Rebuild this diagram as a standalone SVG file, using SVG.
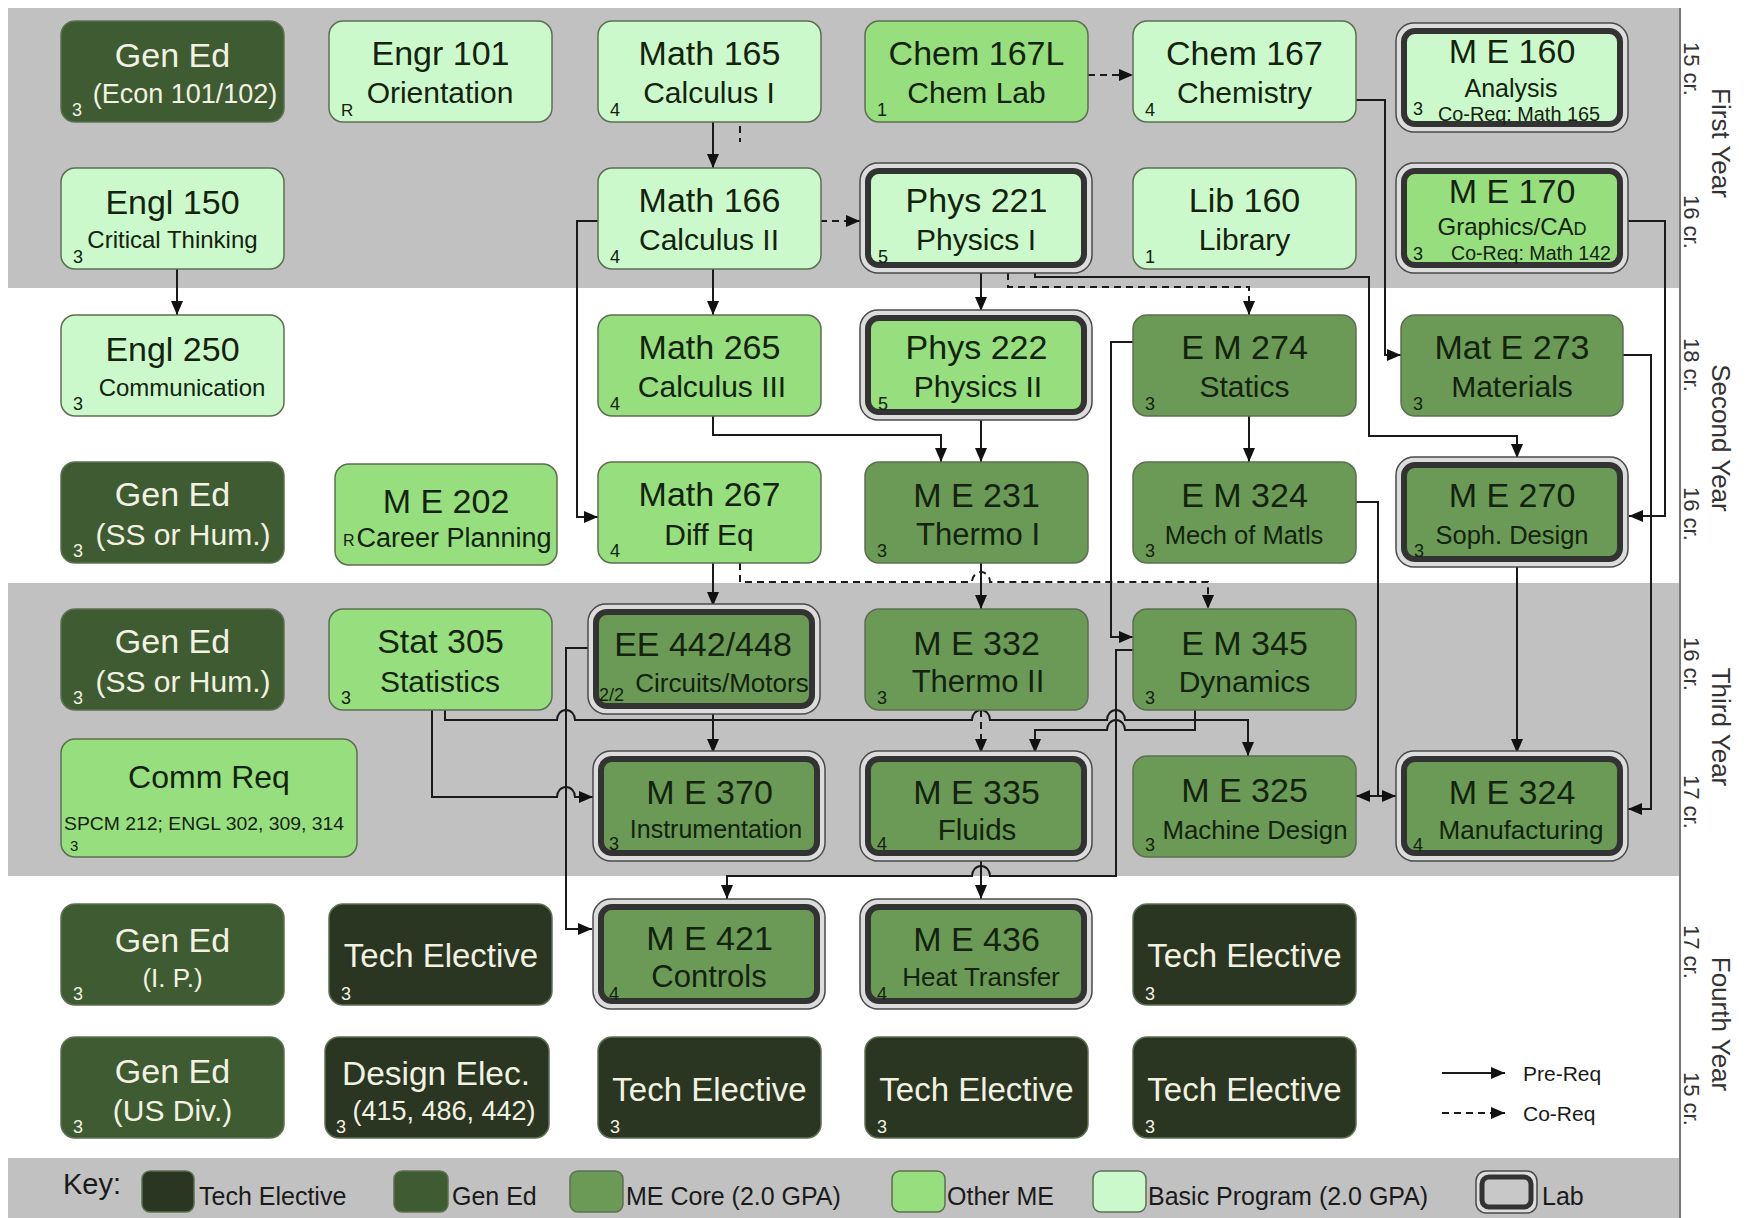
<svg xmlns="http://www.w3.org/2000/svg" width="1745" height="1218" viewBox="0 0 1745 1218">
<defs>
<style>
.b{stroke:#5d6f52;stroke-width:1.5}
.basic{fill:#ccf9cc}
.other{fill:#97de7f}
.core{fill:#6a9a56}
.gen{fill:#3f5b32}
.tech{fill:#2b3622}
.ring{fill:#dcdcdc;stroke:#4a4a4a;stroke-width:1.5}
.lab{stroke:#333;stroke-width:6}
text{font-family:"Liberation Sans",Arial,sans-serif}
.t{font-size:34px;text-anchor:middle;fill:#13230d}
.s{font-size:30px;text-anchor:middle;fill:#13230d}
.c{font-size:18px;fill:#13230d}
.w{fill:#f2f2e2}
.e{stroke:#1a1a1a;stroke-width:2;fill:none}
.d{stroke-dasharray:7 5}
.yr{font-size:26px;fill:#333;text-anchor:middle}
.cr{font-size:22px;fill:#333}
.k{font-size:25px;fill:#1a1a1a}
</style>
<marker id="ah" markerUnits="userSpaceOnUse" markerWidth="14" markerHeight="12" viewBox="0 0 14 12" refX="14" refY="6" orient="auto"><path d="M0,0 L14,6 L0,12 z" fill="#111"/></marker>
</defs>
<rect width="1745" height="1218" fill="#ffffff"/>
<g id="bands">
<rect x="8" y="8" width="1672" height="280" fill="#c1c1c1"/>
<rect x="8" y="583" width="1672" height="293" fill="#c1c1c1"/>
<rect x="8" y="1158" width="1672" height="60" fill="#c1c1c1"/>
<line x1="1680" y1="8" x2="1680" y2="1218" stroke="#777" stroke-width="2"/>
</g>
<g id="years">
<text class="cr" transform="translate(1684,42) rotate(90)">15 cr.</text>
<text class="yr" transform="translate(1712,143) rotate(90)">First Year</text>
<text class="cr" transform="translate(1684,195) rotate(90)">16 cr.</text>
<text class="cr" transform="translate(1684,338) rotate(90)">18 cr.</text>
<text class="yr" transform="translate(1712,438) rotate(90)">Second Year</text>
<text class="cr" transform="translate(1684,487) rotate(90)">16 cr.</text>
<text class="cr" transform="translate(1684,637) rotate(90)">16 cr.</text>
<text class="yr" transform="translate(1712,727) rotate(90)">Third Year</text>
<text class="cr" transform="translate(1684,775) rotate(90)">17 cr.</text>
<text class="cr" transform="translate(1684,925) rotate(90)">17 cr.</text>
<text class="yr" transform="translate(1712,1024) rotate(90)">Fourth Year</text>
<text class="cr" transform="translate(1684,1072) rotate(90)">15 cr.</text>
</g>
<g id="connectors">
<path class="e" d="M177,268 V315" marker-end="url(#ah)"/>
<path class="e" d="M713,122 V168" marker-end="url(#ah)"/>
<path class="e d" d="M740,126 V142" stroke-dasharray="5 4"/>
<path class="e d" d="M1088,75 H1133" marker-end="url(#ah)"/>
<path class="e d" d="M820,221 H860" marker-end="url(#ah)"/>
<path class="e" d="M598,221 H577 V517 H598" marker-end="url(#ah)"/>
<path class="e" d="M713,268 V315" marker-end="url(#ah)"/>
<path class="e" d="M981,273 V311" marker-end="url(#ah)"/>
<path class="e d" d="M1008,273 V287 H1249 V315" marker-end="url(#ah)"/>
<path class="e" d="M1035,273 V277 H1369 V436 H1517 V458" marker-end="url(#ah)"/>
<path class="e" d="M1355,100 H1385 V355 H1401" marker-end="url(#ah)"/>
<path class="e" d="M1628,221 H1665 V516 H1629" marker-end="url(#ah)"/>
<path class="e" d="M1623,355 H1651 V809 H1628" marker-end="url(#ah)"/>
<path class="e" d="M1249,416 V462" marker-end="url(#ah)"/>
<path class="e" d="M1133,342 H1111 V637 H1133" marker-end="url(#ah)"/>
<path class="e" d="M1355,502 H1378 V796 H1356" marker-end="url(#ah)"/>
<path class="e" d="M1378,796 H1396" marker-end="url(#ah)"/>
<path class="e" d="M1517,567 V753" marker-end="url(#ah)"/>
<path class="e" d="M713,416 V435 H941 V462" marker-end="url(#ah)"/>
<path class="e" d="M981,420 V462" marker-end="url(#ah)"/>
<path class="e" d="M713,563 V606" marker-end="url(#ah)"/>
<path class="e d" d="M740,563 V582 H972 A9,10 0 0 1 990,582 H1208 V609" marker-end="url(#ah)"/>
<path class="e" d="M981,563 V609" marker-end="url(#ah)"/>
<path class="e" d="M713,714 V753" marker-end="url(#ah)"/>
<path class="e" d="M593,648 H566 V929 H592" marker-end="url(#ah)"/>
<path class="e" d="M432,710 V797 H557 A9,10 0 0 1 575,797 H593" marker-end="url(#ah)"/>
<path class="e" d="M445,710 V720 H557 A9,10 0 0 1 575,720 H972 A9,10 0 0 1 990,720 H1107 A9,10 0 0 1 1125,720 H1248 V756" marker-end="url(#ah)"/>
<path class="e" d="M1195,710 V730 H1125 A9,10 0 0 0 1107,730 H1035 V753" marker-end="url(#ah)"/>
<path class="e d" d="M981,710 V753" marker-end="url(#ah)"/>
<path class="e" d="M1133,650 H1116 V876 H990 A9,10 0 0 0 972,876 H727 V899" marker-end="url(#ah)"/>
<path class="e" d="M981,861 V899" marker-end="url(#ah)"/>
</g>
<g id="n-gen-econ"><rect class="b gen" x="61" y="21" width="223" height="101" rx="14"/><text class="t w" x="172.5" y="67">Gen Ed</text><text class="s w" x="185" y="103" style="font-size:27px">(Econ 101/102)</text><text class="c w" x="72" y="116">3</text></g>
<g id="n-engr101"><rect class="b basic" x="329" y="21" width="223" height="101" rx="14"/><text class="t" x="440.5" y="65">Engr 101</text><text class="s" x="440" y="103">Orientation</text><text class="c" x="341" y="116" style="font-size:17px">R</text></g>
<g id="n-math165"><rect class="b basic" x="598" y="21" width="223" height="101" rx="14"/><text class="t" x="709.5" y="65">Math 165</text><text class="s" x="709" y="103">Calculus I</text><text class="c" x="610" y="116">4</text></g>
<g id="n-chem167l"><rect class="b other" x="865" y="21" width="223" height="101" rx="14"/><text class="t" x="976.5" y="65">Chem 167L</text><text class="s" x="976.5" y="103">Chem Lab</text><text class="c" x="877" y="116">1</text></g>
<g id="n-chem167"><rect class="b basic" x="1133" y="21" width="223" height="101" rx="14"/><text class="t" x="1244.5" y="65">Chem 167</text><text class="s" x="1244.5" y="103">Chemistry</text><text class="c" x="1145" y="116">4</text></g>
<g id="n-me160"><rect class="ring" x="1396" y="23" width="232" height="109" rx="18"/><rect class="basic lab" x="1404" y="31" width="216" height="93" rx="11"/><text class="t" x="1512" y="63">M E 160</text><text class="s" x="1511" y="97" style="font-size:25px">Analysis</text><text class="c" x="1413" y="115">3</text><text class="c" x="1438" y="121" style="font-size:19.5px" textLength="162" lengthAdjust="spacingAndGlyphs">Co-Req: Math 165</text></g>
<g id="n-engl150"><rect class="b basic" x="61" y="168" width="223" height="101" rx="14"/><text class="t" x="172.5" y="214">Engl 150</text><text class="s" x="172.5" y="248" style="font-size:24px">Critical Thinking</text><text class="c" x="73" y="263">3</text></g>
<g id="n-math166"><rect class="b basic" x="598" y="168" width="223" height="101" rx="14"/><text class="t" x="709.5" y="212">Math 166</text><text class="s" x="709" y="250">Calculus II</text><text class="c" x="610" y="263">4</text></g>
<g id="n-phys221"><rect class="ring" x="860" y="163" width="232" height="110" rx="18"/><rect class="basic lab" x="868" y="171" width="216" height="94" rx="11"/><text class="t" x="976.5" y="212">Phys 221</text><text class="s" x="976" y="250">Physics I</text><text class="c" x="878" y="263">5</text></g>
<g id="n-lib160"><rect class="b basic" x="1133" y="168" width="223" height="101" rx="14"/><text class="t" x="1244.5" y="212">Lib 160</text><text class="s" x="1244.5" y="250">Library</text><text class="c" x="1145" y="263">1</text></g>
<g id="n-me170"><rect class="ring" x="1396" y="163" width="232" height="110" rx="18"/><rect class="other lab" x="1404" y="171" width="216" height="94" rx="11"/><text class="t" x="1512" y="203">M E 170</text><text class="s" x="1512" y="235" style="font-size:24px">Graphics/CA<tspan style="font-size:18px">D</tspan></text><text class="c" x="1413" y="260">3</text><text class="c" x="1451" y="260" style="font-size:19.5px" textLength="160" lengthAdjust="spacingAndGlyphs">Co-Req: Math 142</text></g>
<g id="n-engl250"><rect class="b basic" x="61" y="315" width="223" height="101" rx="14"/><text class="t" x="172.5" y="361">Engl 250</text><text class="s" x="182" y="396" style="font-size:24px">Communication</text><text class="c" x="73" y="410">3</text></g>
<g id="n-math265"><rect class="b other" x="598" y="315" width="223" height="101" rx="14"/><text class="t" x="709.5" y="359">Math 265</text><text class="s" x="712" y="397">Calculus III</text><text class="c" x="610" y="410">4</text></g>
<g id="n-phys222"><rect class="ring" x="860" y="310" width="232" height="110" rx="18"/><rect class="other lab" x="868" y="318" width="216" height="94" rx="11"/><text class="t" x="976.5" y="359">Phys 222</text><text class="s" x="978" y="397">Physics II</text><text class="c" x="878" y="410">5</text></g>
<g id="n-em274"><rect class="b core" x="1133" y="315" width="223" height="101" rx="14"/><text class="t" x="1244.5" y="359">E M 274</text><text class="s" x="1244.5" y="397">Statics</text><text class="c" x="1145" y="410">3</text></g>
<g id="n-mate273"><rect class="b core" x="1401" y="315" width="222" height="101" rx="14"/><text class="t" x="1512" y="359">Mat E 273</text><text class="s" x="1512" y="397">Materials</text><text class="c" x="1413" y="410">3</text></g>
<g id="n-gen-ss1"><rect class="b gen" x="61" y="462" width="223" height="101" rx="14"/><text class="t w" x="172.5" y="506">Gen Ed</text><text class="s w" x="183" y="545">(SS or Hum.)</text><text class="c w" x="73" y="557">3</text></g>
<g id="n-me202"><rect class="b other" x="335" y="464" width="222" height="101" rx="14"/><text class="t" x="446" y="513">M E 202</text><text class="s" x="454" y="547" style="font-size:27px">Career Planning</text><text class="c" x="343" y="546" style="font-size:16px">R</text></g>
<g id="n-math267"><rect class="b other" x="598" y="462" width="223" height="101" rx="14"/><text class="t" x="709.5" y="506">Math 267</text><text class="s" x="709" y="545">Diff Eq</text><text class="c" x="610" y="557">4</text></g>
<g id="n-me231"><rect class="b core" x="865" y="462" width="223" height="101" rx="14"/><text class="t" x="976.5" y="507">M E 231</text><text class="s" x="978" y="545" style="font-size:31px">Thermo I</text><text class="c" x="877" y="557">3</text></g>
<g id="n-em324"><rect class="b core" x="1133" y="462" width="223" height="101" rx="14"/><text class="t" x="1244.5" y="507">E M 324</text><text class="s" x="1244" y="544" style="font-size:25.5px">Mech of Matls</text><text class="c" x="1145" y="557">3</text></g>
<g id="n-me270"><rect class="ring" x="1396" y="457" width="232" height="110" rx="18"/><rect class="core lab" x="1404" y="465" width="216" height="94" rx="11"/><text class="t" x="1512" y="507">M E 270</text><text class="s" x="1512" y="544" style="font-size:25.5px">Soph. Design</text><text class="c" x="1414" y="557">3</text></g>
<g id="n-gen-ss2"><rect class="b gen" x="61" y="609" width="223" height="101" rx="14"/><text class="t w" x="172.5" y="653">Gen Ed</text><text class="s w" x="183" y="692">(SS or Hum.)</text><text class="c w" x="73" y="704">3</text></g>
<g id="n-stat305"><rect class="b other" x="329" y="609" width="223" height="101" rx="14"/><text class="t" x="440.5" y="653">Stat 305</text><text class="s" x="440" y="692">Statistics</text><text class="c" x="341" y="704">3</text></g>
<g id="n-ee442"><rect class="ring" x="588" y="604" width="232" height="110" rx="18"/><rect class="core lab" x="596" y="612" width="216" height="94" rx="11"/><text class="t" x="703" y="656">EE 442/448</text><text class="s" x="722" y="692" style="font-size:26px">Circuits/Motors</text><text class="c" x="599" y="701">2/2</text></g>
<g id="n-me332"><rect class="b core" x="865" y="609" width="223" height="101" rx="14"/><text class="t" x="976.5" y="655">M E 332</text><text class="s" x="978" y="692" style="font-size:31px">Thermo II</text><text class="c" x="877" y="704">3</text></g>
<g id="n-em345"><rect class="b core" x="1133" y="609" width="223" height="101" rx="14"/><text class="t" x="1244.5" y="655">E M 345</text><text class="s" x="1244.5" y="692">Dynamics</text><text class="c" x="1145" y="704">3</text></g>
<g id="n-commreq"><rect class="b other" x="61" y="739" width="296" height="118" rx="14"/><text class="t" x="209" y="788" style="font-size:32px">Comm Req</text><text class="c" x="64" y="830" style="font-size:19px" textLength="280" lengthAdjust="spacingAndGlyphs">SPCM 212; ENGL 302, 309, 314</text><text class="c" x="70" y="851" style="font-size:15px">3</text></g>
<g id="n-me370"><rect class="ring" x="593" y="751" width="232" height="110" rx="18"/><rect class="core lab" x="601" y="759" width="216" height="94" rx="11"/><text class="t" x="709.5" y="804">M E 370</text><text class="s" x="716" y="838" style="font-size:25px">Instrumentation</text><text class="c" x="609" y="850">3</text></g>
<g id="n-me335"><rect class="ring" x="860" y="751" width="232" height="110" rx="18"/><rect class="core lab" x="868" y="759" width="216" height="94" rx="11"/><text class="t" x="976.5" y="804">M E 335</text><text class="s" x="977" y="840" style="font-size:29.5px">Fluids</text><text class="c" x="877" y="850">4</text></g>
<g id="n-me325"><rect class="b core" x="1133" y="756" width="223" height="101" rx="14"/><text class="t" x="1244.5" y="802">M E 325</text><text class="s" x="1255" y="839" style="font-size:25.8px">Machine Design</text><text class="c" x="1145" y="851">3</text></g>
<g id="n-me324"><rect class="ring" x="1396" y="751" width="232" height="110" rx="18"/><rect class="core lab" x="1404" y="759" width="216" height="94" rx="11"/><text class="t" x="1512" y="804">M E 324</text><text class="s" x="1521" y="839" style="font-size:26px">Manufacturing</text><text class="c" x="1413" y="851">4</text></g>
<g id="n-gen-ip"><rect class="b gen" x="61" y="904" width="223" height="101" rx="14"/><text class="t w" x="172.5" y="952">Gen Ed</text><text class="s w" x="172.5" y="987" style="font-size:26px">(I. P.)</text><text class="c w" x="73" y="1000">3</text></g>
<g id="n-tech1"><rect class="b tech" x="329" y="904" width="223" height="101" rx="14"/><text class="t w" x="441" y="967" style="font-size:33px">Tech Elective</text><text class="c w" x="341" y="1000">3</text></g>
<g id="n-me421"><rect class="ring" x="593" y="899" width="232" height="110" rx="18"/><rect class="core lab" x="601" y="907" width="216" height="94" rx="11"/><text class="t" x="709.5" y="950">M E 421</text><text class="s" x="709" y="987" style="font-size:31px">Controls</text><text class="c" x="609" y="1000">4</text></g>
<g id="n-me436"><rect class="ring" x="860" y="899" width="232" height="110" rx="18"/><rect class="core lab" x="868" y="907" width="216" height="94" rx="11"/><text class="t" x="976.5" y="951">M E 436</text><text class="s" x="981" y="986" style="font-size:26px">Heat Transfer</text><text class="c" x="877" y="1000">4</text></g>
<g id="n-tech2"><rect class="b tech" x="1133" y="904" width="223" height="101" rx="14"/><text class="t w" x="1244.5" y="967" style="font-size:33px">Tech Elective</text><text class="c w" x="1145" y="1000">3</text></g>
<g id="n-gen-us"><rect class="b gen" x="61" y="1037" width="223" height="101" rx="14"/><text class="t w" x="172.5" y="1083">Gen Ed</text><text class="s w" x="172.5" y="1121">(US Div.)</text><text class="c w" x="73" y="1133">3</text></g>
<g id="n-design"><rect class="b tech" x="325" y="1037" width="224" height="101" rx="14"/><text class="t w" x="436" y="1085" style="font-size:33.5px">Design Elec.</text><text class="s w" x="444" y="1120" style="font-size:27px">(415, 486, 442)</text><text class="c w" x="336" y="1133">3</text></g>
<g id="n-tech3"><rect class="b tech" x="598" y="1037" width="223" height="101" rx="14"/><text class="t w" x="709.5" y="1101" style="font-size:33px">Tech Elective</text><text class="c w" x="610" y="1133">3</text></g>
<g id="n-tech4"><rect class="b tech" x="865" y="1037" width="223" height="101" rx="14"/><text class="t w" x="976.5" y="1101" style="font-size:33px">Tech Elective</text><text class="c w" x="877" y="1133">3</text></g>
<g id="n-tech5"><rect class="b tech" x="1133" y="1037" width="223" height="101" rx="14"/><text class="t w" x="1244.5" y="1101" style="font-size:33px">Tech Elective</text><text class="c w" x="1145" y="1133">3</text></g>
<g id="legend-arrows">
<path class="e" d="M1442,1073 H1505" marker-end="url(#ah)"/>
<text x="1523" y="1081" style="font-size:21px;fill:#1a1a1a">Pre-Req</text>
<path class="e d" d="M1442,1113 H1505" stroke-dasharray="6 5" marker-end="url(#ah)"/>
<text x="1523" y="1121" style="font-size:21px;fill:#1a1a1a">Co-Req</text>
</g>
<g id="key">
<text x="63" y="1194" style="font-size:29px;fill:#1a1a1a">Key:</text>
<rect class="b tech" x="142" y="1171" width="52" height="41" rx="8"/><text class="k" x="199" y="1205">Tech Elective</text>
<rect class="b gen" x="394" y="1171" width="54" height="41" rx="8"/><text class="k" x="452" y="1205">Gen Ed</text>
<rect class="b core" x="570" y="1171" width="53" height="41" rx="8"/><text class="k" x="626" y="1205">ME Core (2.0 GPA)</text>
<rect class="b other" x="892" y="1171" width="53" height="41" rx="8"/><text class="k" x="947" y="1205">Other ME</text>
<rect class="b basic" x="1093" y="1171" width="53" height="41" rx="8"/><text class="k" x="1148" y="1205">Basic Program (2.0 GPA)</text>
<rect class="ring" x="1476" y="1171" width="61" height="42" rx="10"/><rect x="1482" y="1177" width="49" height="30" rx="7" fill="#c8c8c8" stroke="#333" stroke-width="5"/><text class="k" x="1542" y="1205">Lab</text>
</g>
</svg>
